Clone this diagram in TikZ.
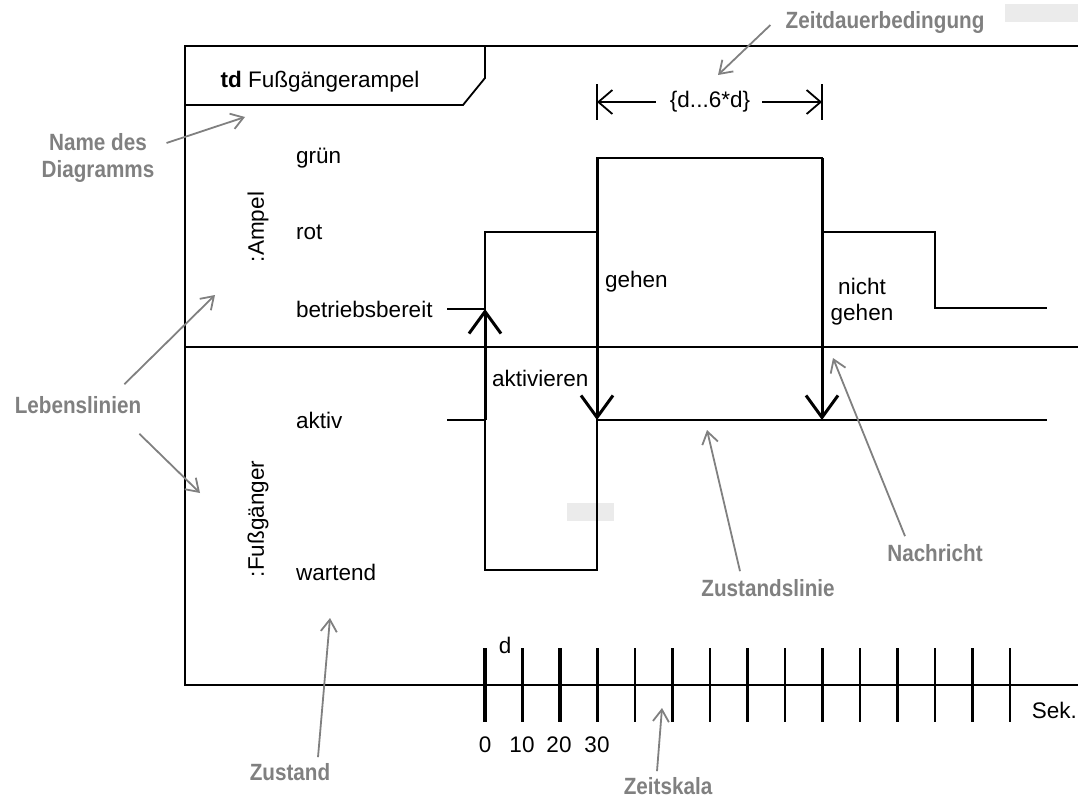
\documentclass[tikz,border=0pt]{standalone}
\usepackage{fontspec}
\setmainfont{Liberation Sans}
\newfontfamily\notefont{Liberation Sans}[FakeStretch=0.88]
\usetikzlibrary{arrows.meta,positioning}

\begin{document}
\begin{tikzpicture}[x=1pt,y=-1pt,
  frame/.style={line width=2.6pt},
  state/.style={line width=1.8pt},
  msg/.style={line width=3pt,
    -{Straight Barb[length=22pt,width=32pt,line width=3pt]}},
  dimarrow/.style={line width=1.8pt,
    -{Straight Barb[length=14pt,width=24pt,line width=1.8pt]}},
  txt/.style={font=\fontsize{22.5}{26}\selectfont,inner sep=0pt},
  note/.style={font={\notefont\bfseries\fontsize{23.5}{27}\selectfont},
    text=black!50,inner sep=0pt,align=center},
  pointer/.style={draw=black!50,line width=1.8pt,
    -{Straight Barb[length=12pt,width=16pt,line width=1.8pt]}}
]
\useasboundingbox (0,0) rectangle (1078,800);
\fill[black!8] (1005,4) rectangle (1078,22);
\fill[black!8] (567,503) rectangle (614,521);
% frame and tab
\draw[frame] (1078,46) -- (185,46) -- (185,685) -- (1078,685);
\draw[frame] (185,347) -- (1078,347);
\draw[line width=1.8pt] (185,105) -- (463,105) -- (485,78) -- (485,46);
\node[txt] (title) at (320,82) {\textbf{td} Fußgängerampel};
% lifelines and states
\node[txt,rotate=90] (ampel) at (258,227) {:Ampel};
\node[txt,rotate=90] (fuss) at (258,519) {:Fußgänger};
\node[txt,anchor=west] (gruen) at (296,158) {grün};
\node[txt,anchor=west] (rot) at (296,232) {rot};
\node[txt,anchor=west] (bereit) at (296,309) {betriebsbereit};
\node[txt,anchor=west] (aktiv) at (296,420) {aktiv};
\node[txt,anchor=west] (wartend) at (296,572) {wartend};
\draw[state] (447,309) -- (485,309) -- (485,232) -- (597,232) -- (597,158)
  -- (822,158) -- (822,232) -- (935,232) -- (935,308) -- (1047,308);
\draw[state] (447,420) -- (485,420) -- (485,570) -- (597,570) -- (597,420)
  -- (1047,420);
% messages
\coordinate (akt0) at (485,420);
\coordinate (akt1) at (485,309);
\coordinate (geh0) at (597,158);
\coordinate (geh1) at (597,420);
\coordinate (ngeh0) at (822,158);
\coordinate (ngeh1) at (822,420);
\draw[msg] (akt0) -- (akt1);
\draw[msg] (geh0) -- (geh1);
\draw[msg] (ngeh0) -- (ngeh1);
\node[txt,anchor=west] (aktivieren) at (492,378) {aktivieren};
\node[txt,anchor=west] (gehen) at (605,282) {gehen};
\node[txt,align=center] (nichtgehen) at (862,302) {nicht\\gehen};
% duration constraint
\coordinate (dl) at (597,102);
\coordinate (dr) at (822,102);
\draw[line width=2.2pt] (597,84) -- (597,120);
\draw[line width=2.2pt] (822,84) -- (822,120);
\node[txt] (span) at (710,102) {\{d...6*d\}};
\draw[dimarrow] ([xshift=-14pt]span.west) -- (dl);
\draw[dimarrow] ([xshift=12pt]span.east) -- (dr);
% time scale
\foreach \i/\w in {0/3.4,1/3.4,2/3.4,3/3.4,4/2.2,5/3,6/2.4,7/2.4,8/2.4,
    9/2.4,10/2.2,11/2.4,12/2.2,13/2.4,14/2.2}
  \draw[line width=\w pt] (485+37.5*\i,648) -- (485+37.5*\i,722);
\node[txt] (dunit) at (505,645) {d};
\node[txt] (t0) at (485,745) {0};
\node[txt] (t10) at (522,745) {10};
\node[txt] (t20) at (559,745) {20};
\node[txt] (t30) at (597,745) {30};
\node[txt,anchor=east] (sek) at (1077,710) {Sek.};
% annotations
\node[note] (zdb) at (885,22) {Zeitdauerbedingung};
\coordinate (zdbtip) at (718,75);
\draw[pointer] ([xshift=-15pt,yshift=-3pt]zdb.west) -- (zdbtip);
\node[note] (name) at (98,158) {Name des\\Diagramms};
\coordinate (nametip) at (245,117);
\draw[pointer] ([xshift=12pt,yshift=15pt]name.east) -- (nametip);
\node[note] (leben) at (78,405) {Lebenslinien};
\coordinate (lebtip1) at (215,295);
\coordinate (lebtip2) at (200,493);
\draw[pointer] ([xshift=-17pt,yshift=12pt]leben.north east) -- (lebtip1);
\draw[pointer] ([xshift=-2pt,yshift=-20pt]leben.south east) -- (lebtip2);
\node[note] (zustand) at (290,772) {Zustand};
\coordinate (zustip) at (330,618);
\draw[pointer] ([xshift=28pt,yshift=6pt]zustand.north) -- (zustip);
\node[note] (zlinie) at (768,588) {Zustandslinie};
\coordinate (zltip) at (707,430);
\draw[pointer] ([xshift=-28pt,yshift=8pt]zlinie.north) -- (zltip);
\node[note] (nachricht) at (935,553) {Nachricht};
\coordinate (natip) at (833,358);
\draw[pointer] ([xshift=-30pt,yshift=8pt]nachricht.north) -- (natip);
\node[note] (skala) at (668,786) {Zeitskala};
\coordinate (sktip) at (662,708);
\draw[pointer] ([xshift=-11pt,yshift=6pt]skala.north) -- (sktip);
\end{tikzpicture}
\end{document}
